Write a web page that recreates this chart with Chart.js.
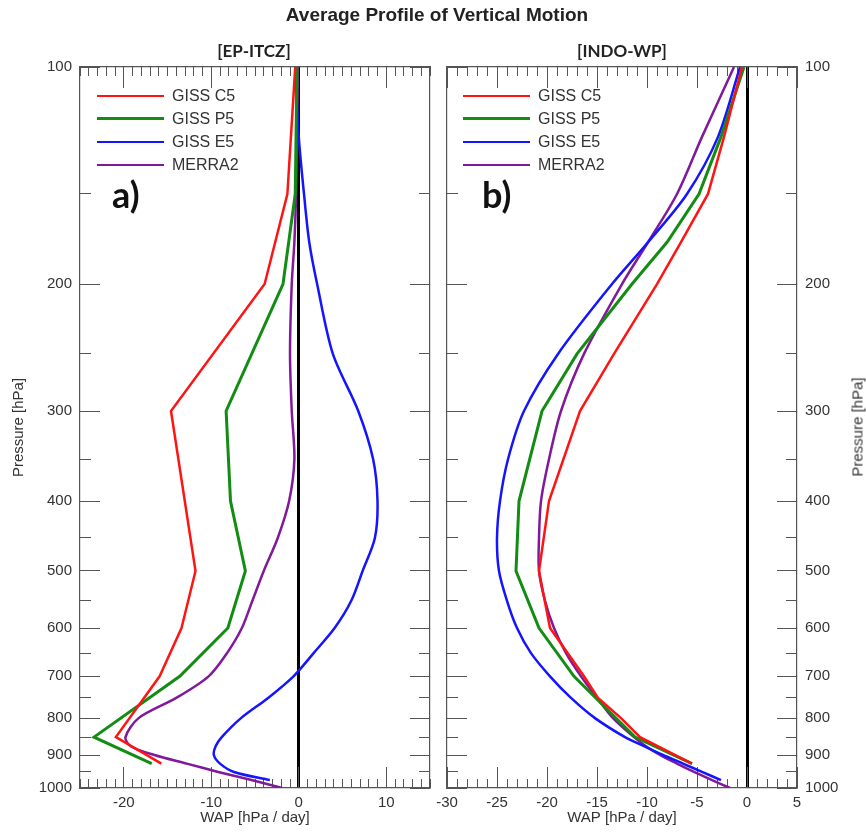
<!DOCTYPE html>
<html>
<head>
<meta charset="utf-8">
<title>Average Profile of Vertical Motion</title>
<script src="https://cdn.jsdelivr.net/npm/chart.js@4.4.1/dist/chart.umd.min.js"></script>
<style>
  body { margin: 0; background: #fff; font-family: "Liberation Sans", Arial, sans-serif; color: #333; }
  #wrap { position: relative; width: 866px; height: 832px; overflow: hidden; }
  #wrap canvas { position: absolute; left: 0; top: 0; }
  .txt { position: absolute; white-space: nowrap; }
  #mainTitle { left: 0; width: 874px; top: 4px; text-align: center; font-weight: bold; font-size: 19px; line-height: 22px; color: #222; }
  .panelTitle { top: 41px; font-family: Lato, "Open Sans", sans-serif; font-weight: bold; font-size: 17px; line-height: 20px; color: #222; transform: translateX(-50%); }
  .tag { font-family: Lato, "Open Sans", sans-serif; font-weight: bold; font-size: 36px; line-height: 36px; color: #111; }
  .legend { position: absolute; font-size: 16px; color: #333; }
  .legend .row { height: 23px; display: flex; align-items: center; }
  .legend .swatch { width: 67px; margin-right: 8px; }
  #pressureRight { left: 857px; top: 427px; font-size: 15px; color: #333; transform: translate(-50%, -50%) rotate(-90deg); }
</style>
</head>
<body>
<div id="wrap">
  <canvas id="epItcz" width="866" height="832"></canvas>
  <canvas id="indoWp" width="866" height="832"></canvas>
  <div class="txt" id="mainTitle">Average Profile of Vertical Motion</div>
  <div class="txt panelTitle" style="left:254px">[EP-ITCZ]</div>
  <div class="txt panelTitle" style="left:622px">[INDO-WP]</div>
  <div class="txt tag" style="left:112px; top:176px">a)</div>
  <div class="txt tag" style="left:482px; top:176px">b)</div>
  <div class="legend" id="legendLeft" style="left:97px; top:84px"></div>
  <div class="legend" id="legendRight" style="left:463px; top:84px"></div>
  <div class="txt" id="pressureRight">Pressure [hPa]</div>
</div>
<script>
// pressure levels [hPa] shared by all profiles (null = no value at that level)
const pressureLevels = [100, 125, 150, 175, 200, 250, 300, 350, 400, 450, 500, 550, 600, 650, 700, 750, 800, 850, 875, 900, 925, 950, 975, 1000]
const pressureTicks = [100, 200, 300, 400, 500, 600, 700, 800, 900, 1000]
const pressureMinorTicks = [150, 250, 350, 450, 550, 650, 750, 850, 950]

const seriesNames = ['GISS C5', 'GISS P5', 'GISS E5', 'MERRA2']
const seriesColors = ['#ff1414', '#138c13', '#1414ff', '#80199a']
const seriesWidths = [2.5, 3, 2.5, 2.5]
// model levels are drawn as straight segments, the finer profiles slightly smoothed
const seriesTension = [0, 0, 0.3, 0.3]

// [EP-ITCZ] WAP [hPa/day]
const epItczC5 = [-0.4, null, -1.3, null, -3.9, null, -14.6, null, null, null, -11.8, null, -13.4, null, -15.9, null, null, -20.9, null, null, -15.7, null, null, null]
const epItczP5 = [-0.2, null, -0.4, null, -1.8, null, -8.3, null, -7.8, null, -6.1, null, -8.1, null, -13.6, null, null, -23.4, null, null, -16.8, null, null, null]
const epItczE5 = [-0.4, 0.0, 0.6, 1.2, 2.1, 3.9, 6.8, 8.5, 9.0, 8.7, 7.3, 6.0, 4.1, 1.7, -0.6, -3.5, -6.6, -8.8, -9.5, -9.7, -9.0, -7.4, -3.3, null]
const epItczMerra2 = [-0.1, -0.2, -0.3, -0.5, -0.8, -1.0, -0.8, -0.5, -1.1, -2.4, -4.0, -5.3, -6.5, -8.2, -10.3, -14.0, -18.3, -19.8, -19.2, -16.5, -12.8, -9.2, -5.4, -1.9]

// [INDO-WP] WAP [hPa/day]
const indoWpC5 = [-0.5, -2.3, -3.9, -6.6, -9.0, -13.3, -16.7, null, -19.8, null, -20.8, null, -19.7, null, -16.3, -14.9, -12.6, -10.7, null, null, -5.5, null, null, null]
const indoWpP5 = [-0.3, -2.6, -4.8, -8.0, -11.5, -17.0, -20.5, null, -22.8, null, -23.1, null, -20.8, null, -17.3, null, null, -11.2, null, null, -5.5, null, null, null]
const indoWpE5 = [-0.7, -2.9, -6.0, -9.9, -13.5, -18.9, -22.3, -23.9, -24.7, -25.0, -24.8, -24.0, -23.0, -21.6, -19.7, -17.6, -15.2, -12.2, -10.3, -8.4, -6.4, -4.5, -2.6, null]
const indoWpMerra2 = [-1.3, -4.5, -7.0, -9.9, -12.5, -16.3, -18.6, -19.8, -20.6, -20.8, -20.8, -20.2, -19.3, -18.1, -16.6, -15.0, -13.4, -11.3, -10.1, -8.7, -7.0, -5.3, -3.5, -1.7]

const epItczWapRange = [-25, 15]
const epItczWapTicks = [-20, -10, 0, 10]
const indoWpWapRange = [-30, 5]
const indoWpWapTicks = [-30, -25, -20, -15, -10, -5, 0, 5]

Chart.defaults.font.family = '"Liberation Sans", Arial, sans-serif'
Chart.defaults.font.size = 15
Chart.defaults.color = '#333'

const axisColor = '#555'

function profilePoints(values) {
    return pressureLevels
        .map((p, i) => ({ x: values[i], y: p }))
        .filter(pt => pt.x !== null)
}

function makeDatasets(profiles) {
    return profiles.map((values, i) => ({
        label: seriesNames[i],
        data: profilePoints(values),
        borderColor: seriesColors[i],
        borderWidth: seriesWidths[i],
        pointRadius: 0,
        tension: seriesTension[i],
        fill: false
    }))
}

// horizontal WAP axis; major ones carry the long ticks (and labels at the bottom)
function wapAxis(position, range, tickList, major, labelled) {
    return {
        type: 'linear',
        position: position,
        min: range[0],
        max: range[1],
        weight: major ? 1 : 0,
        afterBuildTicks: major ? (axis => { axis.ticks = tickList.map(value => ({ value })) }) : undefined,
        afterFit: axis => { axis.height = labelled ? 44 : 0 },
        ticks: major
            ? { display: labelled, padding: 27, autoSkip: false, maxRotation: 0, callback: v => String(v) }
            : { display: false, stepSize: 1 },
        grid: {
            drawOnChartArea: major && labelled,
            drawTicks: true,
            tickLength: major ? -21 : -9,
            tickColor: axisColor,
            tickWidth: 1,
            // only the zero line is drawn across the plot
            color: ctx => (ctx.tick && ctx.tick.value === 0) ? '#000' : 'rgba(0,0,0,0)',
            lineWidth: ctx => (ctx.tick && ctx.tick.value === 0) ? 3 : 1
        },
        border: { display: major, color: axisColor, width: 1.2 },
        title: {
            display: labelled,
            text: 'WAP [hPa / day]',
            color: '#333',
            font: { size: 15 },
            padding: { top: 0, bottom: 5 }
        }
    }
}

function pressureAxis(position, major, labelWidth, titled) {
    return {
        type: 'logarithmic',
        position: position,
        min: 100,
        max: 1000,
        reverse: true,
        weight: major ? 1 : 0,
        afterBuildTicks: axis => {
            axis.ticks = (major ? pressureTicks : pressureMinorTicks).map(value => ({ value }))
        },
        afterFit: axis => { axis.width = labelWidth },
        ticks: {
            display: labelWidth > 0,
            padding: 28,
            autoSkip: false,
            callback: v => String(v)
        },
        grid: {
            drawOnChartArea: false,
            drawTicks: true,
            tickLength: major ? -20 : -11,
            tickColor: axisColor,
            color: axisColor,
            lineWidth: 1
        },
        border: { display: major, color: axisColor, width: 1.2 },
        title: {
            display: titled,
            text: 'Pressure [hPa]',
            color: '#333',
            font: { size: 15 },
            padding: { top: 10, bottom: 0 }
        }
    }
}

function makePanel(canvasId, profiles, range, tickList, padding, yLeftWidth, yRightWidth) {
    return new Chart(document.getElementById(canvasId), {
        type: 'line',
        data: { datasets: makeDatasets(profiles) },
        options: {
            responsive: false,
            animation: false,
            events: [],
            layout: { padding: padding },
            plugins: {
                legend: { display: false },
                title: { display: false },
                tooltip: { enabled: false }
            },
            scales: {
                x: wapAxis('bottom', range, tickList, true, true),
                xMinor: wapAxis('bottom', range, tickList, false, false),
                xTop: wapAxis('top', range, tickList, true, false),
                xTopMinor: wapAxis('top', range, tickList, false, false),
                y: pressureAxis('left', true, yLeftWidth, yLeftWidth > 0),
                yMinor: pressureAxis('left', false, 0, false),
                yRight: pressureAxis('right', true, yRightWidth, false),
                yRightMinor: pressureAxis('right', false, 0, false)
            }
        }
    })
}

makePanel('epItcz', [epItczC5, epItczP5, epItczE5, epItczMerra2],
    epItczWapRange, epItczWapTicks, { left: 0, top: 67, right: 436, bottom: 0 }, 80, 0)
makePanel('indoWp', [indoWpC5, indoWpP5, indoWpE5, indoWpMerra2],
    indoWpWapRange, indoWpWapTicks, { left: 447, top: 67, right: 0, bottom: 0 }, 0, 69)

// legends inside each panel
for (const id of ['legendLeft', 'legendRight']) {
    const box = document.getElementById(id)
    seriesNames.forEach((name, i) => {
        const row = document.createElement('div')
        row.className = 'row'
        const swatch = document.createElement('div')
        swatch.className = 'swatch'
        swatch.style.borderTop = seriesWidths[i] + 'px solid ' + seriesColors[i]
        const label = document.createElement('span')
        label.textContent = name
        row.appendChild(swatch)
        row.appendChild(label)
        box.appendChild(row)
    })
}
</script>
</body>
</html>
